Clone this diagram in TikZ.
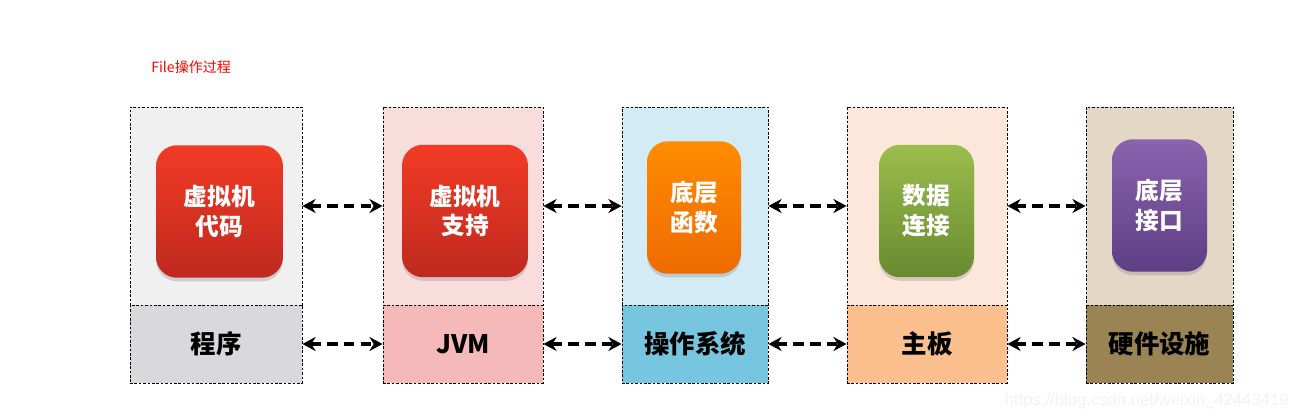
\documentclass[tikz,border=0pt]{standalone}
\usepackage{fontspec}
\setmainfont{Liberation Sans}
\newfontfamily\cjk{Noto Sans CJK SC}
\usetikzlibrary{math,arrows.meta,shadows}

\definecolor{grayUp}{HTML}{F0F0F0}
\definecolor{grayLo}{HTML}{D9D8DB}
\definecolor{pinkUp}{HTML}{F9DCDC}
\definecolor{pinkLo}{HTML}{F4B9B8}
\definecolor{blueUp}{HTML}{D3EBF5}
\definecolor{blueLo}{HTML}{77C6DF}
\definecolor{peachUp}{HTML}{FDE7DA}
\definecolor{peachLo}{HTML}{FCBF8E}
\definecolor{sandUp}{HTML}{E2D8C5}
\definecolor{sandLo}{HTML}{9A8453}
\definecolor{redTop}{HTML}{F13B25}
\definecolor{redBot}{HTML}{BF291F}
\definecolor{orangeTop}{HTML}{FF8C00}
\definecolor{orangeBot}{HTML}{EE6A00}
\definecolor{greenTop}{HTML}{9CBD4D}
\definecolor{greenBot}{HTML}{678A2F}
\definecolor{purpleTop}{HTML}{8B63AE}
\definecolor{purpleBot}{HTML}{5E3E84}

\begin{document}
\begin{tikzpicture}[x=0.02cm, y=-0.02cm,
    upper/.style={draw, dash pattern=on 1.5pt off 1pt, line width=0.5pt,
        minimum height=3.96cm, inner sep=0pt},
    lower/.style={draw, dash pattern=on 1.5pt off 1pt, line width=0.5pt,
        minimum height=1.56cm, inner sep=0pt,
        font=\cjk\bfseries\fontsize{14.5}{16}\selectfont},
    tile/.style={rounded corners=0.42cm, minimum height=2.65cm, inner sep=0pt,
        text=white, align=center,
        font=\cjk\bfseries\fontsize{13.5}{17}\selectfont,
        drop shadow={shadow xshift=0pt, shadow yshift=-2pt, opacity=0.3}},
    link/.style={{Stealth[length=7.5pt,width=8pt]}-{Stealth[length=7.5pt,width=8pt]},
        line width=1.8pt, dash pattern=on 6pt off 3.5pt},
]
    \tikzmath{
        \yup = 206;
        \ylo = 344;
    }

% marco
\useasboundingbox (0,0) rectangle (1298,419);

% titulo
\node[anchor = west, text = red, inner sep = 0pt,
        font = \cjk\fontsize{8}{10}\selectfont] (title) at (151,67) {File操作过程};

% columnas: parte superior e inferior
\foreach \n/\cx/\w/\cup/\clo/\lab in {%
        1/216/3.44/grayUp/grayLo/程序,
        2/463/3.20/pinkUp/pinkLo/JVM,
        3/695/2.92/blueUp/blueLo/操作系统,
        4/927/3.20/peachUp/peachLo/主板,
        5/1159.5/2.94/sandUp/sandLo/硬件设施} {
    \node[upper, fill = \cup, minimum width = \w cm] (up\n) at (\cx,\yup) {};
    \node[lower, fill = \clo, minimum width = \w cm] (lo\n) at (\cx,\ylo) {\lab};
}

% bloques redondeados
\foreach \n/\cx/\cy/\w/\ctop/\cbot/\txt in {%
        1/219.5/211.5/2.54/redTop/redBot/{虚拟机\\代码},
        2/465/211/2.52/redTop/redBot/{虚拟机\\支持},
        3/694/207.5/1.88/orangeTop/orangeBot/{底层\\函数},
        4/926.5/211/1.90/greenTop/greenBot/{数据\\连接},
        5/1159.5/205.5/1.90/purpleTop/purpleBot/{底层\\接口}} {
    \node[tile, top color = \ctop, bottom color = \cbot,
          minimum width = \w cm] (tile\n) at (\cx,\cy) {\txt};
}

% flechas
\foreach \a/\b in {1/2, 2/3, 3/4, 4/5} {
    \draw[link] (up\a.east) -- (up\b.west);
    \draw[link] (lo\a.east) -- (lo\b.west);
}

% marca de agua
\node[anchor = east, text = gray!10, inner sep = 0pt,
        font = \fontsize{9.5}{11}\selectfont] (mark) at (1289,401)
        {https://blog.csdn.net/weixin\_42443419};

\end{tikzpicture}
\end{document}
